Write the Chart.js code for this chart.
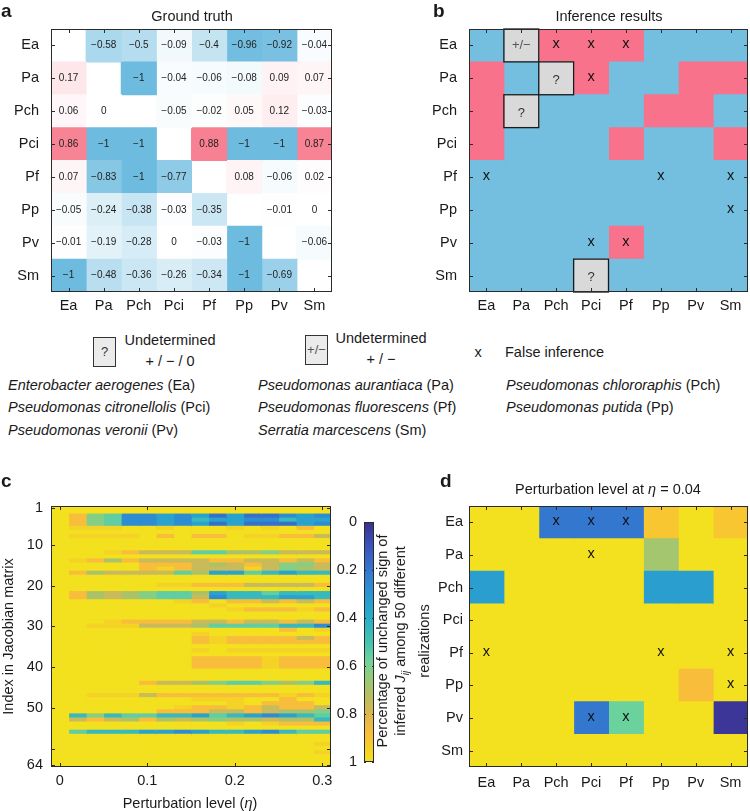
<!DOCTYPE html>
<html>
<head>
<meta charset="utf-8">
<script src="https://cdn.jsdelivr.net/npm/chart.js@4.4.1/dist/chart.umd.min.js"></script>
<style>
  body { margin: 0; width: 750px; height: 811px; position: relative; overflow: hidden; background: #fff;
         font-family: "Liberation Sans", Arial, Helvetica, sans-serif; color: #1a1a1a; }
  canvas { position: absolute; }
  .t { position: absolute; white-space: nowrap; font-size: 14.5px; line-height: 1; }
  .mid { transform: translate(-50%, -50%); }
  .vmid { transform: translateY(-50%); }
  .lab { position: absolute; font-weight: bold; font-size: 19px; line-height: 1; }
  .lbox { position: absolute; width: 23px; height: 30px; border: 1px solid #333; background: #ebebeb;
          box-sizing: border-box; text-align: center; line-height: 28px; color: #333; font-size: 13px; }
  .two { position: absolute; text-align: center; font-size: 14.5px; line-height: 21px; white-space: nowrap; }
  .sp { position: absolute; font-size: 14.5px; line-height: 1; white-space: nowrap; transform: translateY(-50%); }
</style>
</head>
<body>
<canvas id="cA" width="345" height="325" style="left:0;top:0"></canvas>
<canvas id="cB" width="380" height="325" style="left:370px;top:0"></canvas>
<canvas id="cC" width="345" height="341" style="left:0;top:470px"></canvas>
<canvas id="cBar" width="50" height="280" style="left:330px;top:500px"></canvas>
<canvas id="cD" width="330" height="341" style="left:420px;top:470px"></canvas>

<div class="lab" style="left:1px;top:1px">a</div>
<div class="lab" style="left:433px;top:1px">b</div>
<div class="lab" style="left:1px;top:471px">c</div>
<div class="lab" style="left:440px;top:471px">d</div>

<div class="t mid" style="left:192px;top:16px">Ground truth</div>
<div class="t mid" style="left:609px;top:16px">Inference results</div>

<div class="lbox" style="left:93px;top:337px">?</div>
<div class="two" style="left:170px;top:330px;transform:translateX(-50%)">Undetermined<br>+ / − / 0</div>
<div class="lbox" style="left:305px;top:335px;color:#555">+/−</div>
<div class="two" style="left:381px;top:328px;transform:translateX(-50%)">Undetermined<br>+ / −</div>
<div class="t mid" style="left:478px;top:352px">x</div>
<div class="t vmid" style="left:505px;top:352px">False inference</div>

<div class="sp" style="left:8px;top:385px"><i>Enterobacter aerogenes</i> (Ea)</div>
<div class="sp" style="left:8px;top:407px"><i>Pseudomonas citronellolis</i> (Pci)</div>
<div class="sp" style="left:8px;top:430px"><i>Pseudomonas veronii</i> (Pv)</div>
<div class="sp" style="left:258px;top:385px"><i>Pseudomonas aurantiaca</i> (Pa)</div>
<div class="sp" style="left:258px;top:407px"><i>Pseudomonas fluorescens</i> (Pf)</div>
<div class="sp" style="left:258px;top:430px"><i>Serratia marcescens</i> (Sm)</div>
<div class="sp" style="left:506px;top:385px"><i>Pseudomonas chlororaphis</i> (Pch)</div>
<div class="sp" style="left:506px;top:407px"><i>Pseudomonas putida</i> (Pp)</div>

<div class="t mid" style="left:190px;top:803px">Perturbation level (<i>η</i>)</div>
<div class="t mid" style="left:608px;top:489px">Perturbation level at <i>η</i> = 0.04</div>
<div class="t" style="left:403px;top:641px;width:260px;text-align:center;line-height:18px;white-space:nowrap;transform:translate(-50%,-50%) rotate(-90deg)">Percentage of unchanged sign of<br>inferred <i>J<sub style="font-size:10px">ij</sub></i> among 50 different<br>realizations</div>

<script>
const species = ['Ea', 'Pa', 'Pch', 'Pci', 'Pf', 'Pp', 'Pv', 'Sm'];

// a: ground truth interaction strengths (row = affected species), null on the diagonal
const truthEa  = [null, -0.58, -0.5, -0.09, -0.4, -0.96, -0.92, -0.04];
const truthPa  = [0.17, null, -1, -0.04, -0.06, -0.08, 0.09, 0.07];
const truthPch = [0.06, 0, null, -0.05, -0.02, 0.05, 0.12, -0.03];
const truthPci = [0.86, -1, -1, null, 0.88, -1, -1, 0.87];
const truthPf  = [0.07, -0.83, -1, -0.77, null, 0.08, -0.06, 0.02];
const truthPp  = [-0.05, -0.24, -0.38, -0.03, -0.35, null, -0.01, 0];
const truthPv  = [-0.01, -0.19, -0.28, 0, -0.03, -1, null, -0.06];
const truthSm  = [-1, -0.48, -0.36, -0.26, -0.34, -1, -0.69, null];
const groundTruth = [truthEa, truthPa, truthPch, truthPci, truthPf, truthPp, truthPv, truthSm];

// b: inferred sign ('-' negative, '+' positive, '?' undetermined +/-/0, '±' undetermined +/-)
const inferredSign = ['-±+++---', '+-?+--++', '+?---++-', '+---+--+', '--------', '--------', '----+---', '---?----'];
// false inferences (same cells in b and d)
const falseMarks = ['..xxx...', '...x....', '........', '........', 'x....x.x', '.......x', '...xx...', '........'];

// c: fraction of unchanged sign per Jacobian entry (rows 1..64) at each perturbation level
const etaLevels = [0, 0.02, 0.04, 0.06, 0.08, 0.1, 0.12, 0.14, 0.16, 0.18, 0.2, 0.22, 0.24, 0.26, 0.28, 0.3];
const levelOf = { '.': 1, 'y': 0.95, 'o': 0.88, '8': 0.76, '7': 0.7, '6': 0.62, '5': 0.55, '4': 0.45, '3': 0.35, '2': 0.27, '1': 0.18 };
const signKeep = [
  '................', '................', '.o65223231311232', '.o65223243322433',
  '.o65223231311132', '.yyy..y...y.y.o.', '................', '.yyyy.o.oo.yyoo8',
  '................', '................', '................', '...yo88855776888',
  '................', '.yo7o8888oo88o8o', '.....ooo878o8668', '.....oyo888y8678',
  '.o78888573354344', '................', '................', '......yyooo8888o',
  '................', '.o78765573445444', '.o78765582444334', '.......yo.oo8o8o',
  '.........y......', '..........yoooyo', '................', '................',
  '...yoooo88o88o8o', '..yyy88875555442', '.............o.y', '........y.......',
  '........oyoooo8o', '........oyoooooo', '................', '........y.yyyyyy',
  '................', '........ooooyooo', '........ooooyooo', '........ooooyooo',
  '................', '................', '................', '.....o8876556764',
  '................', '................', '..yyy8oooooooyoy', '........yyy..o..',
  '..........y.ooo.', '.......yooyo8oo8', '......ooo88o8776', '.464554435432345',
  '.8o87o7876778774', '..........y.yooo', '................', '.544433234432455',
  '................', '................', '...............y', '................',
  '...............y', '................', '................', '................'
];
const cTickRows = [1, 10, 20, 30, 40, 50, 60, 64];
const cLabelRows = [1, 10, 20, 30, 40, 50, 64];
const cTicksX = [0, 0.1, 0.2, 0.3];

// d: same measure at eta = 0.04, per species pair
const eta004 = [
  [1, 1, 0.2, 0.2, 0.2, 0.91, 1, 0.91],
  [1, 1, 1, 1, 1, 0.68, 1, 1],
  [0.34, 1, 1, 1, 1, 0.34, 0.34, 1],
  [1, 1, 1, 1, 1, 1, 1, 1],
  [1, 1, 1, 1, 1, 1, 1, 1],
  [1, 1, 1, 1, 1, 1, 0.88, 1],
  [1, 1, 1, 0.2, 0.57, 1, 1, 0.02],
  [1, 1, 1, 1, 1, 1, 1, 1]
];
const cbTicks = [0, 0.2, 0.4, 0.6, 0.8, 1];

// parula-like colour map
const CMAP = [[0, '#3b2f8e'], [0.1, '#3b54be'], [0.2, '#3477cf'], [0.3, '#2b95d3'], [0.4, '#28aec9'],
  [0.5, '#45c3b0'], [0.58, '#70d39a'], [0.65, '#95cb76'], [0.72, '#b5bf63'], [0.8, '#dcb650'],
  [0.88, '#f8bd3b'], [0.94, '#f5cf28'], [1, '#f3e01e']];
const hex = h => [1, 3, 5].map(i => parseInt(h.substr(i, 2), 16));
function parula(v) {
  for (let i = 1; i < CMAP.length; i++) {
    if (v <= CMAP[i][0]) {
      const [v0, c0] = CMAP[i - 1], [v1, c1] = CMAP[i];
      const t = (v - v0) / (v1 - v0), a = hex(c0), b = hex(c1);
      return 'rgb(' + a.map((x, k) => Math.round(x + (b[k] - x) * t)).join(',') + ')';
    }
  }
  return CMAP[CMAP.length - 1][1];
}
const BLUE = [109, 187, 223], PINK = [246, 112, 132];
function truthColor(v) {
  if (v === null) return 'rgba(0,0,0,0)';
  const base = v < 0 ? BLUE : PINK, t = Math.min(1, Math.abs(v));
  return 'rgb(' + base.map(c => Math.round(255 + (c - 255) * t)).join(',') + ')';
}
const signColor = { '-': '#74bee0', '+': '#f7728a', '?': '#d9d9d9', '±': '#d9d9d9' };

const FONT = "'Liberation Sans', Arial, Helvetica, sans-serif";
Chart.defaults.font.family = FONT;
Chart.defaults.font.size = 14.5;
Chart.defaults.color = '#1a1a1a';
Chart.defaults.animation = false;
Chart.defaults.events = [];
Chart.defaults.plugins.legend.display = false;
Chart.defaults.plugins.tooltip.enabled = false;

// MATLAB style box with inward ticks
function boxTicks(xTicks, yTicks, len) {
  return {
    id: 'boxTicks',
    afterDatasetsDraw(chart) {
      const { ctx, chartArea: a } = chart, x = chart.scales.x, y = chart.scales.y;
      ctx.save();
      ctx.strokeStyle = '#2a2a2a';
      ctx.lineWidth = 1;
      ctx.beginPath();
      xTicks.forEach(v => {
        const p = Math.round(x.getPixelForValue(v)) + 0.5;
        ctx.moveTo(p, a.top); ctx.lineTo(p, a.top + len);
        ctx.moveTo(p, a.bottom); ctx.lineTo(p, a.bottom - len);
      });
      yTicks.forEach(v => {
        const p = Math.round(y.getPixelForValue(v)) + 0.5;
        ctx.moveTo(a.left, p); ctx.lineTo(a.left + len, p);
        ctx.moveTo(a.right, p); ctx.lineTo(a.right - len, p);
      });
      ctx.stroke();
      ctx.strokeRect(Math.round(a.left) + 0.5, Math.round(a.top) + 0.5,
        Math.round(a.right - a.left) - 1, Math.round(a.bottom - a.top) - 1);
      ctx.restore();
    }
  };
}

// text / outline drawn in cell centres
function cellMarks(items) {
  return {
    id: 'cellMarks',
    afterDatasetsDraw(chart) {
      const { ctx } = chart, x = chart.scales.x, y = chart.scales.y;
      const hw = Math.abs(x.getPixelForValue(0.5) - x.getPixelForValue(0));
      const hh = Math.abs(y.getPixelForValue(1) - y.getPixelForValue(0)) / 2;
      ctx.save();
      ctx.textAlign = 'center';
      ctx.textBaseline = 'middle';
      items.forEach(it => {
        const px = x.getPixelForValue(it.col), py = y.getPixelForValue(it.row);
        if (it.box) {
          ctx.strokeStyle = '#1a1a1a';
          ctx.lineWidth = 1.3;
          ctx.strokeRect(px - hw, py - hh, 2 * hw, 2 * hh);
        }
        ctx.font = it.font;
        ctx.fillStyle = it.color;
        ctx.fillText(it.text, px, py + (it.dy || 0));
      });
      ctx.restore();
    }
  };
}

function speciesScales(yWidth, yPad, xHeight, xPad) {
  return {
    x: {
      type: 'linear', min: -0.5, max: species.length - 0.5,
      afterBuildTicks: s => { s.ticks = species.map((_, i) => ({ value: i })); },
      afterFit: s => { s.height = xHeight; },
      ticks: { padding: xPad, autoSkip: false, maxRotation: 0, callback: v => species[Math.round(v)] },
      grid: { display: false, drawTicks: false }, border: { display: false }
    },
    y: {
      type: 'category',
      afterFit: s => { s.width = yWidth; },
      ticks: { padding: yPad, autoSkip: false },
      grid: { display: false, drawTicks: false }, border: { display: false }
    }
  };
}
const barDefaults = { grouped: false, barPercentage: 1, categoryPercentage: 1, borderWidth: 0, inflateAmount: 0.5 };
const speciesIdx = species.map((_, i) => i);

function falseItems() {
  const out = [];
  falseMarks.forEach((row, i) => [...row].forEach((ch, j) => {
    if (ch === 'x') out.push({ row: i, col: j, text: 'x', font: '14.5px ' + FONT, color: '#111', dy: -1 });
  }));
  return out;
}

// ---- a
const aItems = [];
groundTruth.forEach((row, i) => row.forEach((v, j) => {
  if (v !== null) aItems.push({ row: i, col: j, text: String(v).replace('-', '\u2212'), font: '10px ' + FONT, color: '#222' });
}));
new Chart(document.getElementById('cA'), {
  type: 'bar',
  data: {
    labels: species,
    datasets: species.map((_, j) => ({
      data: species.map(() => [j - 0.5, j + 0.5]),
      backgroundColor: groundTruth.map(row => truthColor(row[j]))
    }))
  },
  options: {
    indexAxis: 'y', responsive: false,
    layout: { padding: { top: 29, right: 13, bottom: 0, left: 0 } },
    datasets: { bar: barDefaults },
    scales: speciesScales(51, 12, 33, 5)
  },
  plugins: [cellMarks(aItems), boxTicks(speciesIdx, speciesIdx, 4)]
});

// ---- b
const bItems = [];
inferredSign.forEach((row, i) => [...row].forEach((ch, j) => {
  if (ch === '?') bItems.push({ row: i, col: j, text: '?', font: '13px ' + FONT, color: '#333', box: true, dy: 2 });
  if (ch === '±') bItems.push({ row: i, col: j, text: '+/\u2212', font: '13px ' + FONT, color: '#555', box: true });
}));
new Chart(document.getElementById('cB'), {
  type: 'bar',
  data: {
    labels: species,
    datasets: species.map((_, j) => ({
      data: species.map(() => [j - 0.5, j + 0.5]),
      backgroundColor: inferredSign.map(row => signColor[row[j]])
    }))
  },
  options: {
    indexAxis: 'y', responsive: false,
    layout: { padding: { top: 29, right: 2, bottom: 0, left: 0 } },
    datasets: { bar: barDefaults },
    scales: speciesScales(99, 12, 33, 5)
  },
  plugins: [cellMarks(bItems.concat(falseItems())), boxTicks(speciesIdx, speciesIdx, 4)]
});

// ---- c
new Chart(document.getElementById('cC'), {
  type: 'bar',
  data: {
    labels: signKeep.map((_, i) => String(i + 1)),
    datasets: etaLevels.map((eta, j) => ({
      data: signKeep.map(() => [eta - 0.01, eta + 0.01]),
      backgroundColor: signKeep.map(s => parula(levelOf[s[j]] ?? 1))
    }))
  },
  options: {
    indexAxis: 'y', responsive: false,
    layout: { padding: { top: 36, right: 14, bottom: 0, left: 0 } },
    datasets: { bar: Object.assign({}, barDefaults, { inflateAmount: 0.6 }) },
    scales: {
      x: {
        type: 'linear', min: -0.01, max: 0.31,
        afterBuildTicks: s => { s.ticks = cTicksX.map(v => ({ value: v })); },
        afterFit: s => { s.height = 44; },
        ticks: { padding: 5, maxRotation: 0, callback: v => String(v) },
        grid: { display: false, drawTicks: false }, border: { display: false }
      },
      y: {
        type: 'category',
        afterFit: s => { s.width = 51; },
        ticks: { padding: 8, autoSkip: false, callback: (v, i) => cLabelRows.includes(i + 1) ? String(i + 1) : '' },
        title: { display: true, text: 'Index in Jacobian matrix', padding: 0 },
        grid: { display: false, drawTicks: false }, border: { display: false }
      }
    }
  },
  plugins: [boxTicks(cTicksX, cTickRows.map(r => r - 1), 4)]
});

// ---- colour bar
new Chart(document.getElementById('cBar'), {
  type: 'bar',
  data: {
    labels: [''],
    datasets: [{
      data: [[0, 1]],
      backgroundColor: ctx => {
        const ch = ctx.chart;
        if (!ch.chartArea) return CMAP[CMAP.length - 1][1];
        const y = ch.scales.y;
        const g = ch.ctx.createLinearGradient(0, y.getPixelForValue(0), 0, y.getPixelForValue(1));
        CMAP.forEach(([v, c]) => g.addColorStop(v, c));
        return g;
      },
      barPercentage: 1, categoryPercentage: 1, borderWidth: 0
    }]
  },
  options: {
    responsive: false,
    layout: { padding: { top: 22, right: 6, bottom: 18, left: 0 } },
    scales: {
      x: { display: false },
      y: {
        type: 'linear', reverse: true, min: 0, max: 1,
        afterBuildTicks: s => { s.ticks = cbTicks.map(v => ({ value: v })); },
        afterFit: s => { s.width = 34; },
        ticks: { padding: 7, callback: v => String(v) },
        grid: { display: false, drawTicks: false }, border: { display: false }
      }
    }
  },
  plugins: [boxTicks([], cbTicks, 2)]
});

// ---- d
new Chart(document.getElementById('cD'), {
  type: 'bar',
  data: {
    labels: species,
    datasets: species.map((_, j) => ({
      data: species.map(() => [j - 0.5, j + 0.5]),
      backgroundColor: eta004.map(row => parula(row[j]))
    }))
  },
  options: {
    indexAxis: 'y', responsive: false,
    layout: { padding: { top: 36, right: 2, bottom: 0, left: 0 } },
    datasets: { bar: barDefaults },
    scales: speciesScales(49, 6, 44, 7)
  },
  plugins: [cellMarks(falseItems()), boxTicks(speciesIdx, speciesIdx, 4)]
});
</script>
</body>
</html>
